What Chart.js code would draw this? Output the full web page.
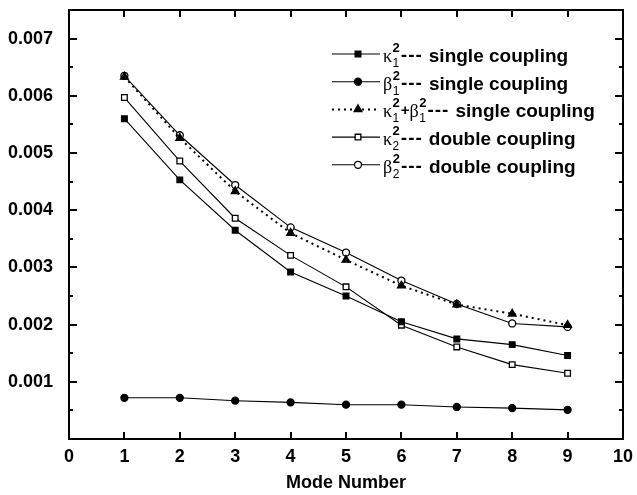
<!DOCTYPE html>
<html>
<head>
<meta charset="utf-8">
<script src="https://cdn.jsdelivr.net/npm/chart.js@4/dist/chart.umd.min.js"></script>
<style>
  html, body { margin: 0; padding: 0; background: #fff; }
  #wrap { width: 637px; height: 495px; }
</style>
</head>
<body>
<div id="wrap"><canvas id="chart" width="637" height="495"></canvas></div>
<script>
// values
const modes = [1, 2, 3, 4, 5, 6, 7, 8, 9];
const kappa1Single = [0.00560, 0.00453, 0.00365, 0.00292, 0.00250, 0.00205, 0.00175, 0.00165, 0.00146];
const beta1Single  = [0.00072, 0.00072, 0.00067, 0.00064, 0.00060, 0.00060, 0.00056, 0.00054, 0.00051];
const sumSingle    = [0.00633, 0.00526, 0.00433, 0.00360, 0.00313, 0.00268, 0.00235, 0.00219, 0.00199];
const kappa2Double = [0.00597, 0.00486, 0.00386, 0.00321, 0.00266, 0.00199, 0.00161, 0.00130, 0.00115];
const beta2Double  = [0.00635, 0.00531, 0.00444, 0.00370, 0.00326, 0.00277, 0.00236, 0.00202, 0.00196];

const xTicks = [0, 1, 2, 3, 4, 5, 6, 7, 8, 9, 10];
const yLabels = ["0.001", "0.002", "0.003", "0.004", "0.005", "0.006", "0.007"];

// legend text: [greek, sub, sup] parts, then description
const legendRows = [
    { sym: [["κ", "1", "2"]], text: "single coupling" },
    { sym: [["β", "1", "2"]], text: "single coupling" },
    { sym: [["κ", "1", "2"], "+", ["β", "1", "2"]], text: "single coupling" },
    { sym: [["κ", "2", "2"]], text: "double coupling" },
    { sym: [["β", "2", "2"]], text: "double coupling" }
];

const FONT = "'Liberation Sans', Arial, sans-serif";

function toPoints(values) {
    return modes.map((m, i) => ({ x: m, y: values[i] }));
}

function series(values, style, filled, radius, dash, width) {
    return {
        data: toPoints(values),
        borderColor: "#000",
        borderWidth: width || 1.1,
        borderDash: dash || [],
        pointStyle: style,
        pointRadius: radius,
        pointHoverRadius: radius,
        pointBorderWidth: 1.3,
        pointBorderColor: "#000",
        pointBackgroundColor: filled ? "#000" : "#fff",
        tension: 0,
        fill: false
    };
}

const datasets = [
    series(kappa1Single, "rect", true, 4),
    series(beta1Single, "circle", true, 3.5),
    series(sumSingle, "triangle", true, 4.5, [2, 4], 2),
    series(kappa2Double, "rect", false, 4),
    series(beta2Double, "circle", false, 3.5)
];

// box, inward ticks on all four sides, and the legend
const framePlugin = {
    id: "frame",
    afterDraw(chart) {
        const ctx = chart.ctx;
        const a = chart.chartArea;
        const xs = chart.scales.x, ys = chart.scales.y;
        ctx.save();
        ctx.strokeStyle = "#000";
        ctx.lineWidth = 2;
        ctx.strokeRect(a.left, a.top, a.right - a.left, a.bottom - a.top);

        ctx.beginPath();
        xs.ticks.forEach(t => {
            if (t.value <= 0 || t.value >= 10) return;
            let px = Math.round(xs.getPixelForValue(t.value));
            ctx.moveTo(px, a.bottom); ctx.lineTo(px, a.bottom - 7);
            ctx.moveTo(px, a.top); ctx.lineTo(px, a.top + 7);
        });
        ys.ticks.forEach(t => {
            let k = Math.round(t.value * 10000);
            if (k <= 0 || k >= 75) return;
            let len = k % 10 == 0 ? 8 : 4;
            let py = Math.round(ys.getPixelForValue(t.value));
            ctx.moveTo(a.left, py); ctx.lineTo(a.left + len, py);
            ctx.moveTo(a.right, py); ctx.lineTo(a.right - len, py);
        });
        ctx.stroke();

        // legend
        legendRows.forEach((row, i) => {
            let ds = chart.data.datasets[i];
            let y = 54 + i * 27.7;
            ctx.beginPath();
            ctx.lineWidth = ds.borderWidth;
            ctx.setLineDash(ds.borderDash);
            ctx.moveTo(332, y);
            ctx.lineTo(380, y);
            ctx.stroke();
            ctx.setLineDash([]);
            ctx.fillStyle = ds.pointBackgroundColor;
            ctx.lineWidth = ds.pointBorderWidth;
            Chart.helpers.drawPoint(ctx, { pointStyle: ds.pointStyle, radius: ds.pointRadius, rotation: 0, borderWidth: ds.pointBorderWidth }, 358, y);

            let base = y + 8;
            let x = 383;
            ctx.fillStyle = "#000";
            ctx.textBaseline = "alphabetic";
            ctx.textAlign = "left";
            row.sym.forEach(part => {
                if (typeof part == "string") {
                    ctx.font = "bold 15px " + FONT;
                    ctx.fillText(part, x, base - 2);
                    x += ctx.measureText(part).width;
                    return;
                }
                ctx.font = "18px 'Liberation Serif', serif";
                ctx.fillText(part[0], x, base);
                x += ctx.measureText(part[0]).width + 0.5;
                ctx.font = "12px " + FONT;
                ctx.fillText(part[1], x, base + 5);
                let w1 = ctx.measureText(part[1]).width;
                ctx.font = "bold 13px " + FONT;
                ctx.fillText(part[2], x, base - 10);
                let w2 = ctx.measureText(part[2]).width;
                x += Math.max(w1, w2) + 1;
            });
            ctx.font = "bold 19px " + FONT;
            ctx.letterSpacing = "1px";
            ctx.fillText("---", x, base - 1);
            ctx.letterSpacing = "0px";
            ctx.fillText(row.text, x + 28, base);
        });
        ctx.restore();
    }
};

new Chart(document.getElementById("chart"), {
    type: "line",
    data: { datasets: datasets },
    options: {
        responsive: false,
        animation: false,
        devicePixelRatio: 1,
        layout: { padding: { top: 10, right: 14, left: 0, bottom: 0 } },
        plugins: {
            legend: { display: false },
            tooltip: { enabled: false }
        },
        scales: {
            x: {
                type: "linear",
                min: 0,
                max: 10,
                afterFit: s => { s.height = 56; s.paddingLeft = 0; s.paddingRight = 0; },
                afterBuildTicks: s => { s.ticks = xTicks.map(v => ({ value: v })); },
                grid: { display: false, drawTicks: false },
                border: { display: false },
                ticks: {
                    color: "#000",
                    padding: 7,
                    maxRotation: 0,
                    font: { family: FONT, size: 18, weight: "bold" },
                    callback: v => String(v)
                },
                title: {
                    display: true,
                    text: "Mode Number",
                    color: "#000",
                    padding: { top: 0, bottom: 1 },
                    font: { family: FONT, size: 18, weight: "bold" }
                }
            },
            y: {
                min: 0,
                max: 0.0075,
                afterFit: s => { s.width = 69; s.paddingTop = 0; s.paddingBottom = 0; },
                grid: { display: false, drawTicks: false },
                border: { display: false },
                ticks: {
                    stepSize: 0.0005,
                    color: "#000",
                    padding: 16,
                    autoSkip: false,
                    font: { family: FONT, size: 18, weight: "bold" },
                    callback: v => {
                        let k = Math.round(v * 10000);
                        return k > 0 && k % 10 == 0 ? yLabels[k / 10 - 1] : "";
                    }
                }
            }
        }
    },
    plugins: [framePlugin]
});
</script>
</body>
</html>
